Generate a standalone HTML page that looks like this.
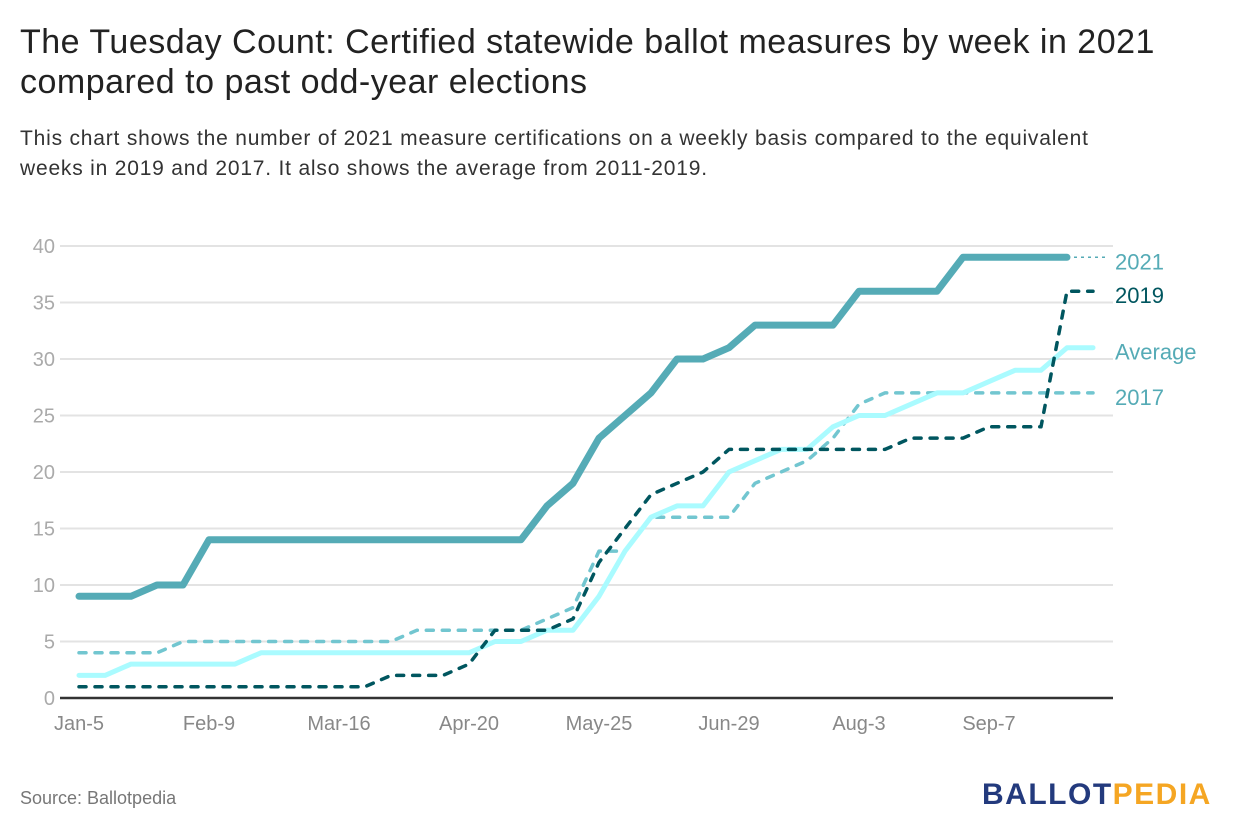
<!DOCTYPE html>
<html><head><meta charset="utf-8"><style>
body{margin:0;background:#fff;width:1240px;height:840px;overflow:hidden;font-family:"Liberation Sans",sans-serif}
h1{position:absolute;left:20px;top:22px;margin:0;font-weight:normal;font-size:34px;letter-spacing:0.5px;line-height:40px;color:#222;width:1200px}
p{position:absolute;left:20px;top:124px;margin:0;font-size:21px;letter-spacing:0.8px;line-height:30px;color:#333;width:1110px}
#src{position:absolute;left:20px;top:788px;font-size:18px;color:#777}
#logo{position:absolute;left:982px;top:778px;font-size:30px;font-weight:bold;letter-spacing:1.5px}
</style></head><body>
<h1>The Tuesday Count: Certified statewide ballot measures by week in 2021 compared to past odd-year elections</h1>
<p>This chart shows the number of 2021 measure certifications on a weekly basis compared to the equivalent weeks in 2019 and 2017. It also shows the average from 2011-2019.</p>
<svg id="chart" width="1240" height="840" style="position:absolute;left:0;top:0"></svg>
<div id="src">Source: Ballotpedia</div>
<div id="logo"><span style="color:#233a7d">BALLOT</span><span style="color:#f5a623">PEDIA</span></div>
<script>
const yTicks=[0,5,10,15,20,25,30,35,40];
const xTickLabels=["Jan-5","Feb-9","Mar-16","Apr-20","May-25","Jun-29","Aug-3","Sep-7"];
const xTickIdx=[0,5,10,15,20,25,30,35];
const s2021=[9,9,9,10,10,14,14,14,14,14,14,14,14,14,14,14,14,14,17,19,23,25,27,30,30,31,33,33,33,33,36,36,36,36,39,39,39,39,39];
const s2019=[1,1,1,1,1,1,1,1,1,1,1,1,2,2,2,3,6,6,6,7,12,15,18,19,20,22,22,22,22,22,22,22,23,23,23,24,24,24,36,36];
const sAvg=[2,2,3,3,3,3,3,4,4,4,4,4,4,4,4,4,5,5,6,6,9,13,16,17,17,20,21,22,22,24,25,25,26,27,27,28,29,29,31,31];
const s2017=[4,4,4,4,5,5,5,5,5,5,5,5,5,6,6,6,6,6,7,8,13,13,16,16,16,16,19,20,21,23,26,27,27,27,27,27,27,27,27,27];
const NS="http://www.w3.org/2000/svg",svg=document.getElementById('chart');
const X=i=>79+26*i, Y=v=>698-v*11.3;
function mk(t,a,p){const e=document.createElementNS(NS,t);for(const k in a)e.setAttribute(k,a[k]);(p||svg).appendChild(e);return e;}
yTicks.forEach(v=>{
 const l=mk('line',{x1:60,x2:1113,y1:Y(v),y2:Y(v),stroke:v?'#e3e3e3':'#333','stroke-width':v?2:2.5});
 
 
 const t=mk('text',{x:55,y:Y(v)+7,'text-anchor':'end','font-size':20,fill:'#aaa'});t.textContent=v;
 
 
});
xTickLabels.forEach((s,k)=>{
 const t=mk('text',{x:X(xTickIdx[k]),y:730,'text-anchor':'middle','font-size':20,fill:'#888'});t.textContent=s;
 
 
});
function line(d,c,w,dash,name){
 const p=mk('polyline',{points:d.map((v,i)=>X(i)+','+Y(v)).join(' '),fill:'none',stroke:c,'stroke-width':w,'stroke-linejoin':'round','stroke-linecap':'round'});
 if(dash)p.setAttribute('stroke-dasharray',dash);
 
 
}
line(s2017,'#72c6d0',3.5,'7 9','series-2017');
line(sAvg,'#aafbff',5,null,'series-average');
line(s2019,'#00565f',3.5,'7 9','series-2019');
line(s2021,'#55abb6',7,null,'series-2021');
const ext=mk('line',{x1:X(38),y1:Y(s2021[38]),x2:1106,y2:Y(s2021[38]),stroke:'#55abb6','stroke-width':1.5,'stroke-dasharray':'3 4'});


const labs=[["2021",s2021[38],'#55abb6'],["2019",s2019[39],'#00565f'],["Average",sAvg[39],'#55abb6'],["2017",s2017[39],'#55abb6']];
labs.forEach(l=>{const t=mk('text',{x:1115,y:Y(l[1])+12,'font-size':22,fill:l[2]});t.textContent=l[0];
 
 });
</script>
</body></html>
